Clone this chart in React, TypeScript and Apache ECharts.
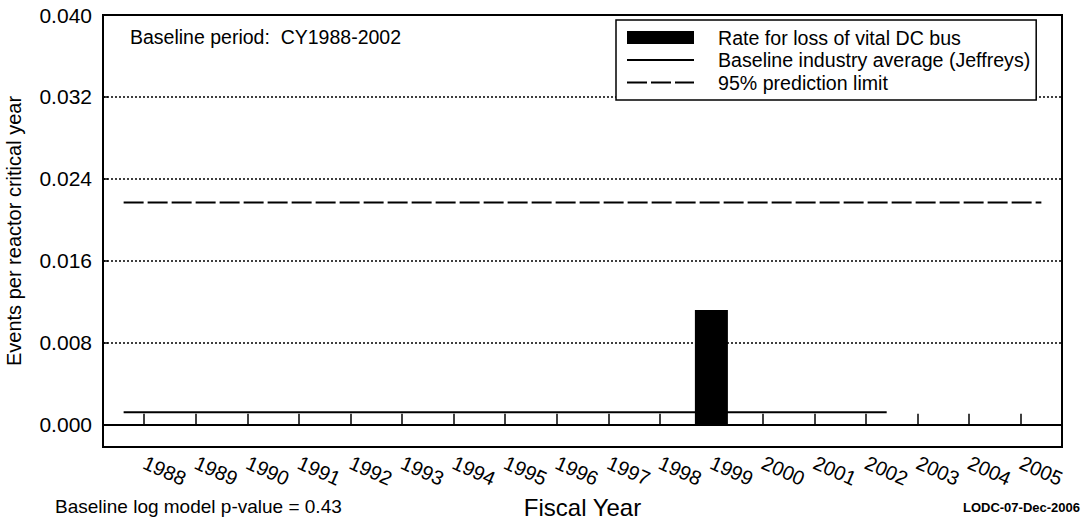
import React, { useEffect, useRef } from "react";
import * as echarts from "echarts";

// ---- data ----
const fiscalYears = [1988, 1989, 1990, 1991, 1992, 1993, 1994, 1995, 1996, 1997, 1998, 1999, 2000, 2001, 2002, 2003, 2004, 2005];
const rateYears = [1999];
const rateValues = [0.0112];
const baselineYears = [1987.6, 2002.4];
const baselineValues = [0.0012, 0.0012];
const limitYears = [1987.6, 2005.4];
const limitValues = [0.0217, 0.0217];
const yAxisMin = 0;
const yAxisMax = 0.04;
const yAxisStep = 0.008;
const xAxisMin = 1987.2;
const xAxisMax = 2005.8;

const seriesNames = [
  "Rate for loss of vital DC bus",
  "Baseline industry average (Jeffreys)",
  "95% prediction limit",
];

const FONT = "'Liberation Sans', Arial, Helvetica, sans-serif";

export default function App() {
  const ref = useRef<HTMLDivElement>(null);

  useEffect(() => {
    if (!ref.current) return;
    const chart = echarts.init(ref.current, null, { renderer: "svg" });

    const option: any = {
      animation: false,
      backgroundColor: "#fff",
      textStyle: { fontFamily: FONT, color: "#000" },
      grid: { left: 103, right: 22, top: 15, bottom: 97, containLabel: false },
      legend: {
        orient: "vertical",
        left: 616,
        top: 20,
        padding: [7.5, 6, 7.5, 10],
        itemWidth: 67,
        itemHeight: 13,
        itemGap: 2.5,
        backgroundColor: "#fff",
        borderColor: "#000",
        borderWidth: 1.5,
        borderRadius: 0,
        selectedMode: false,
        textStyle: { fontFamily: FONT, fontSize: 19.6, color: "#000", lineHeight: 20, padding: [0, 0, 0, 19] },
        data: [
          { name: seriesNames[0], icon: "rect" },
          { name: seriesNames[1], itemStyle: { opacity: 0 } },
          { name: seriesNames[2], itemStyle: { opacity: 0 } },
        ],
      },
      xAxis: [
        {
          type: "value",
          min: xAxisMin,
          max: xAxisMax,
          position: "bottom",
          axisLine: { show: true, onZero: false, lineStyle: { color: "#000", width: 2 } },
          axisTick: { show: false },
          axisLabel: { show: false },
          splitLine: { show: false },
        },
        {
          type: "value",
          min: xAxisMin,
          max: xAxisMax,
          position: "bottom",
          offset: 20,
          name: "Fiscal Year",
          nameLocation: "middle",
          nameGap: 49,
          nameTextStyle: { fontFamily: FONT, fontSize: 24, color: "#000" },
          axisLine: { show: false },
          axisTick: {
            show: true,
            inside: true,
            length: 11,
            customValues: fiscalYears,
            lineStyle: { color: "#000", width: 1.5 },
          },
          axisLabel: {
            show: true,
            customValues: fiscalYears,
            rotate: -24,
            margin: 17,
            fontFamily: FONT,
            fontSize: 20,
            color: "#000",
            formatter: (v: number) => String(Math.round(v)),
          },
          splitLine: { show: false },
        },
      ],
      yAxis: {
        type: "value",
        min: yAxisMin,
        max: yAxisMax,
        interval: yAxisStep,
        axisLine: { show: true, lineStyle: { color: "#000", width: 2 } },
        axisTick: { show: true, inside: true, length: 5, lineStyle: { color: "#000", width: 1.5 } },
        axisLabel: {
          fontFamily: FONT,
          fontSize: 21,
          color: "#000",
          margin: 11,
          padding: [8, 0, 0, 0],
          formatter: (v: number) => v.toFixed(3),
        },
        splitLine: { show: true, lineStyle: { color: "#000", width: 1.5, type: [2, 2] } },
      },
      series: [
        {
          name: seriesNames[0],
          type: "bar",
          xAxisIndex: 0,
          barWidth: 33,
          z: 5,
          itemStyle: { color: "#000" },
          data: rateYears.map((y, i) => [y, rateValues[i]]),
        },
        {
          name: seriesNames[1],
          type: "line",
          xAxisIndex: 0,
          symbol: "none",
          z: 3,
          lineStyle: { color: "#000", width: 2 },
          itemStyle: { color: "#000" },
          data: baselineYears.map((y, i) => [y, baselineValues[i]]),
        },
        {
          name: seriesNames[2],
          type: "line",
          xAxisIndex: 0,
          symbol: "none",
          z: 3,
          lineStyle: { color: "#000", width: 2, type: [20, 4] },
          itemStyle: { color: "#000" },
          data: limitYears.map((y, i) => [y, limitValues[i]]),
        },
      ],
      graphic: [
        {
          type: "rect",
          z: 100,
          silent: true,
          shape: { x: 103, y: 15, width: 959, height: 432 },
          style: { fill: "none", stroke: "#000", lineWidth: 2 },
        },
        {
          type: "text",
          z: 100,
          x: 130,
          y: 37,
          style: { text: "Baseline period:  CY1988-2002", font: `19.5px ${FONT}`, fill: "#000", textAlign: "left", textVerticalAlign: "middle" },
        },
        {
          type: "text",
          z: 100,
          x: 14,
          y: 231,
          rotation: Math.PI / 2,
          style: { text: "Events per reactor critical year", font: `20px ${FONT}`, fill: "#000", textAlign: "center", textVerticalAlign: "middle" },
        },
        {
          type: "text",
          z: 100,
          x: 55,
          y: 506,
          style: { text: "Baseline log model p-value = 0.43", font: `19px ${FONT}`, fill: "#000", textAlign: "left", textVerticalAlign: "middle" },
        },
        {
          type: "text",
          z: 100,
          x: 1080,
          y: 507,
          style: { text: "LODC-07-Dec-2006", font: `bold 13px ${FONT}`, fill: "#000", textAlign: "right", textVerticalAlign: "middle" },
        },
      ],
    };

    chart.setOption(option);
    return () => chart.dispose();
  }, []);

  return (
    <div
      ref={ref}
      style={{ position: "absolute", left: 0, top: 0, width: 1084, height: 524, background: "#fff" }}
    />
  );
}
